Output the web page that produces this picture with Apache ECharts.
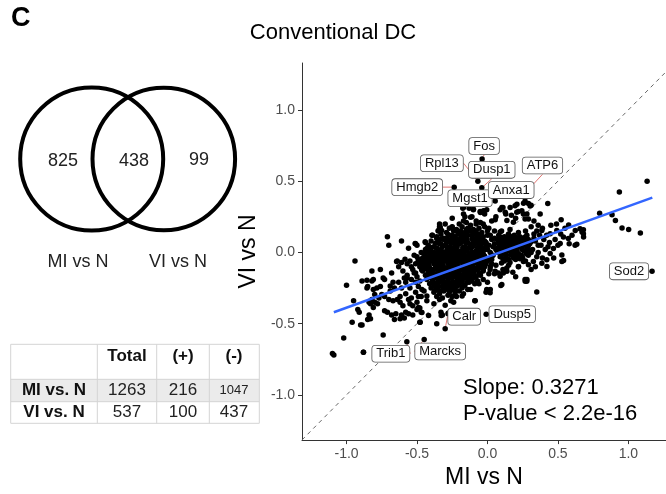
<!DOCTYPE html>
<html>
<head>
<meta charset="utf-8">
<script src="https://cdn.jsdelivr.net/npm/echarts@6/dist/echarts.min.js"></script>
<style>
  html, body { margin: 0; padding: 0; background: #fff; }
  #chart { width: 666px; height: 494px; }
</style>
</head>
<body>
<div id="chart"></div>
<script>
// scatter points [MI vs N, VI vs N]
const LEFT_TAIL = [
  [-1.10,-0.71],[-1.09,-0.72],[-1.02,-0.60],[-1.00,-0.23],[-0.96,-0.49],[-0.95,-0.34],[-0.94,-0.06],
  [-0.92,-0.40],[-0.91,-0.42],[-0.90,-0.51],[-0.89,-0.20],[-0.88,-0.70],[-0.85,-0.47],[-0.85,-0.24],
  [-0.84,-0.44],[-0.82,-0.13],[-0.82,-0.20],[-0.82,-0.33],[-0.83,-0.36],[-0.81,-0.26],[-0.76,-0.12],
  [-0.80,-0.35],[-0.78,-0.36],[-0.73,-0.41],[-0.855,-0.195],[-0.81,-0.19],[-0.855,-0.25],[-0.785,-0.25],
  [-0.76,-0.24],[-0.74,-0.18],[-0.73,-0.19],[-0.68,-0.145],[-0.67,-0.21],[-0.69,-0.235],[-0.66,-0.25],
  [-0.60,-0.13],[-0.59,-0.18],[-0.57,-0.16],[-0.58,-0.21],[-0.54,-0.19],[-0.50,-0.17],[-0.71,-0.42],
  [-0.68,-0.44],[-0.66,-0.47],[-0.65,-0.43],[-0.61,-0.44],[-0.59,-0.46],[-0.56,-0.43],[-0.53,-0.44],
  [-0.74,-0.58],[-0.71,0.11],[-0.70,0.05],[-0.61,0.08],[-0.56,0.03],[-0.50,0.05],[-0.64,-0.06],
  [-0.61,-0.07],[-0.645,-0.064],[-0.585,-0.048],[-0.63,-0.10],[-0.57,-0.08],[-0.54,-0.10],[-0.51,-0.08],
  [-0.49,-0.05],[-0.52,-0.145],[-0.62,-0.31],[-0.58,-0.29],[-0.56,-0.33],[-0.54,-0.32],[-0.51,-0.28],
  [-0.49,-0.31],[-0.55,-0.36],[-0.53,-0.375],[-0.50,-0.35],[-0.48,-0.39],[-0.49,-0.24],[-0.51,-0.21],
  [-0.48,-0.20],[-0.465,-0.26],[-0.62,-0.35],[-0.60,-0.375],[-0.64,-0.33],[-0.67,-0.34],[-0.70,-0.33],
  [-0.73,-0.31],[-0.75,-0.295],[-0.77,-0.32],[-0.80,-0.295],[-0.83,-0.34],[-0.69,-0.27],[-0.61,-0.25],
  [-0.63,-0.21],[-0.55,-0.25],[-0.57,-0.18],[-0.465,-0.12],[-0.48,-0.10],[-0.83,-0.466],[-0.89,-0.51],
  [-0.81,-0.386],[-0.84,-0.35],[-0.62,-0.466],[-0.58,-0.42],[-0.50,-0.40],[-0.418,-0.443],
  [-0.47,0.00],[-0.50,-0.03],[-0.48,-0.08],[-0.53,-0.12],[-0.55,-0.06],[-0.52,-0.02],[-0.88,-0.70]
];

const CORE = [
  [-0.20,0.20],[-0.15,0.21],[-0.12,0.19],[-0.08,0.20],[-0.05,0.21],
  [-0.27,0.17],[-0.22,0.16],[-0.18,0.18],[-0.14,0.17],[-0.10,0.16],[-0.06,0.17],[-0.02,0.18],
  [-0.33,0.13],[-0.29,0.14],[-0.24,0.15],[-0.20,0.13],[-0.16,0.14],[-0.13,0.15],[-0.09,0.13],[-0.04,0.14],[0.00,0.15],
  [-0.36,0.11],[-0.31,0.10],[-0.27,0.12],[-0.23,0.11],[-0.19,0.10],[-0.15,0.11],[-0.11,0.12],[-0.07,0.10],[-0.03,0.11],
  [-0.40,0.08],[-0.35,0.07],[-0.31,0.09],[-0.28,0.08],[-0.24,0.07],[-0.21,0.08],[-0.17,0.09],[-0.14,0.07],[-0.10,0.08],[-0.06,0.07],[-0.02,0.08],
  [-0.42,0.05],[-0.38,0.04],[-0.34,0.06],[-0.30,0.05],[-0.27,0.04],[-0.23,0.05],[-0.20,0.06],[-0.16,0.04],[-0.12,0.05],[-0.09,0.06],[-0.05,0.04],[-0.01,0.05],
  [-0.44,0.02],[-0.40,0.01],[-0.36,0.03],[-0.33,0.02],[-0.29,0.01],[-0.26,0.02],[-0.22,0.03],[-0.19,0.01],[-0.15,0.02],[-0.12,0.03],[-0.08,0.01],[-0.04,0.02],[0.00,0.02],
  [-0.45,-0.01],[-0.41,-0.02],[-0.38,0.00],[-0.34,-0.01],[-0.31,-0.02],[-0.27,0.00],[-0.24,-0.01],[-0.20,-0.02],[-0.17,0.00],[-0.13,-0.01],[-0.10,-0.02],[-0.06,0.00],[-0.03,-0.01],
  [-0.46,-0.04],[-0.42,-0.05],[-0.39,-0.03],[-0.35,-0.04],[-0.32,-0.05],[-0.28,-0.03],[-0.25,-0.04],[-0.21,-0.05],[-0.18,-0.03],[-0.14,-0.04],[-0.11,-0.05],[-0.07,-0.03],[-0.04,-0.04],[0.00,-0.05],
  [-0.47,-0.07],[-0.43,-0.08],[-0.40,-0.06],[-0.36,-0.07],[-0.33,-0.08],[-0.29,-0.06],[-0.26,-0.07],[-0.22,-0.08],[-0.19,-0.06],[-0.15,-0.07],[-0.12,-0.08],[-0.08,-0.06],[-0.05,-0.07],[-0.01,-0.08],
  [-0.45,-0.10],[-0.41,-0.11],[-0.37,-0.09],[-0.34,-0.10],[-0.30,-0.11],[-0.27,-0.09],[-0.23,-0.10],[-0.20,-0.11],[-0.16,-0.09],[-0.13,-0.10],[-0.09,-0.11],[-0.06,-0.09],[-0.02,-0.10],
  [-0.46,-0.13],[-0.42,-0.14],[-0.38,-0.12],[-0.35,-0.13],[-0.31,-0.14],[-0.28,-0.12],[-0.24,-0.13],[-0.21,-0.14],[-0.17,-0.12],[-0.14,-0.13],[-0.10,-0.14],[-0.07,-0.12],[-0.03,-0.13],
  [-0.44,-0.16],[-0.40,-0.17],[-0.36,-0.15],[-0.33,-0.16],[-0.29,-0.17],[-0.26,-0.15],[-0.22,-0.16],[-0.19,-0.17],[-0.15,-0.15],[-0.12,-0.16],[-0.08,-0.17],[-0.05,-0.15],
  [-0.43,-0.19],[-0.39,-0.20],[-0.35,-0.18],[-0.32,-0.19],[-0.28,-0.20],[-0.25,-0.18],[-0.21,-0.19],[-0.18,-0.20],[-0.14,-0.18],[-0.11,-0.19],[-0.07,-0.20],
  [-0.41,-0.22],[-0.37,-0.23],[-0.34,-0.21],[-0.30,-0.22],[-0.27,-0.23],[-0.23,-0.21],[-0.20,-0.22],[-0.16,-0.23],[-0.13,-0.21],[-0.09,-0.22],
  [-0.40,-0.25],[-0.36,-0.26],[-0.32,-0.24],[-0.29,-0.25],[-0.25,-0.26],[-0.22,-0.24],[-0.18,-0.25],[-0.14,-0.26],
  [-0.38,-0.28],[-0.34,-0.29],[-0.31,-0.27],[-0.27,-0.28],[-0.23,-0.29],[-0.20,-0.27],
  [-0.36,-0.31],[-0.32,-0.32],[-0.28,-0.30],[-0.25,-0.31]
];

// second pass over the solid part of the main blob
const CORE_FILL = [
  [-0.23,0.155],[-0.19,0.15],[-0.15,0.16],[-0.115,0.155],[-0.08,0.15],
  [-0.28,0.125],[-0.25,0.12],[-0.21,0.13],[-0.175,0.125],[-0.14,0.12],[-0.10,0.13],[-0.06,0.125],
  [-0.33,0.095],[-0.29,0.10],[-0.255,0.09],[-0.22,0.095],[-0.18,0.10],[-0.145,0.09],[-0.11,0.095],[-0.08,0.10],[-0.045,0.09],
  [-0.37,0.065],[-0.33,0.06],[-0.29,0.07],[-0.255,0.065],[-0.22,0.06],[-0.185,0.07],[-0.15,0.065],[-0.11,0.06],[-0.075,0.07],[-0.035,0.065],
  [-0.40,0.035],[-0.36,0.03],[-0.32,0.04],[-0.285,0.035],[-0.25,0.03],[-0.215,0.04],[-0.175,0.035],[-0.14,0.03],[-0.105,0.04],[-0.07,0.035],[-0.03,0.03],
  [-0.43,0.005],[-0.39,0.00],[-0.35,0.01],[-0.32,0.005],[-0.285,0.00],[-0.25,0.01],[-0.22,0.005],[-0.18,0.00],[-0.145,0.01],[-0.11,0.005],[-0.075,0.00],[-0.04,0.01],
  [-0.44,-0.025],[-0.40,-0.03],[-0.365,-0.02],[-0.33,-0.025],[-0.295,-0.03],[-0.26,-0.02],[-0.23,-0.025],[-0.19,-0.03],[-0.16,-0.02],[-0.125,-0.025],[-0.09,-0.03],[-0.055,-0.02],[-0.02,-0.025],
  [-0.445,-0.055],[-0.41,-0.06],[-0.375,-0.05],[-0.34,-0.055],[-0.305,-0.06],[-0.27,-0.05],[-0.235,-0.055],[-0.20,-0.06],[-0.165,-0.05],[-0.13,-0.055],[-0.095,-0.06],[-0.06,-0.05],[-0.03,-0.055],
  [-0.45,-0.085],[-0.415,-0.09],[-0.38,-0.08],[-0.35,-0.085],[-0.315,-0.09],[-0.28,-0.08],[-0.245,-0.085],[-0.21,-0.09],[-0.175,-0.08],[-0.14,-0.085],[-0.105,-0.09],[-0.07,-0.08],[-0.035,-0.085],
  [-0.435,-0.115],[-0.40,-0.12],[-0.36,-0.11],[-0.325,-0.115],[-0.29,-0.12],[-0.255,-0.11],[-0.22,-0.115],[-0.185,-0.12],[-0.15,-0.11],[-0.115,-0.115],[-0.08,-0.12],[-0.045,-0.11],
  [-0.42,-0.145],[-0.385,-0.15],[-0.345,-0.14],[-0.31,-0.145],[-0.275,-0.15],[-0.24,-0.14],[-0.205,-0.145],[-0.17,-0.15],[-0.135,-0.14],[-0.095,-0.145],[-0.06,-0.15],
  [-0.41,-0.175],[-0.375,-0.18],[-0.34,-0.17],[-0.305,-0.175],[-0.27,-0.18],[-0.235,-0.17],[-0.20,-0.175],[-0.165,-0.18],[-0.13,-0.17],[-0.09,-0.175],
  [-0.39,-0.205],[-0.355,-0.21],[-0.32,-0.20],[-0.285,-0.205],[-0.25,-0.21],[-0.215,-0.20],[-0.18,-0.205],[-0.145,-0.21],[-0.11,-0.20],
  [-0.38,-0.235],[-0.345,-0.24],[-0.31,-0.23],[-0.275,-0.235],[-0.24,-0.24],[-0.205,-0.23],[-0.17,-0.235],
  [-0.37,-0.265],[-0.335,-0.27],[-0.30,-0.26],[-0.265,-0.265],[-0.23,-0.27]
];

const CORE_HALO = [
  [-0.25,0.24],[-0.17,0.27],[-0.11,0.25],[-0.13,0.31],[-0.05,0.28],[-0.02,0.27],[-0.16,0.25],[-0.34,0.18],
  [-0.35,0.15],[-0.44,0.07],[-0.51,0.06],[-0.39,0.12],[-0.25,0.18],[-0.30,0.20],[-0.08,0.22],[-0.03,0.20],
  [0.01,0.17],[0.02,0.12],[-0.175,0.31],[-0.10,0.30],[-0.052,0.287],[-0.005,0.30],[-0.17,0.22],[-0.12,0.246],
  [-0.34,0.20],[-0.325,0.154],[-0.36,0.097],[-0.43,0.028],[-0.436,-0.053],[-0.49,-0.057],[-0.51,-0.145],
  [-0.467,-0.122],[-0.45,-0.27],[-0.47,-0.31],[-0.43,-0.34],[-0.38,-0.36],[-0.34,-0.33],[-0.30,-0.37],
  [-0.26,-0.34],[-0.22,-0.31],[-0.17,-0.29],[-0.12,-0.26],[-0.06,-0.22],[-0.03,-0.19],[-0.33,-0.42],
  [-0.28,-0.43],[-0.32,-0.44],[-0.49,-0.39],[-0.47,-0.42],[-0.48,-0.49],[-0.09,-0.34],[0.00,-0.21],
  [0.02,-0.26],[-0.01,-0.28],[-0.36,-0.50],[-0.328,-0.443],[-0.43,-0.306],[-0.24,-0.35],[-0.18,-0.306],
  [-0.17,0.315],[-0.099,0.303],[-0.028,0.292],[-0.335,0.177],[-0.348,0.154],[-0.442,0.074],[-0.513,0.062],
  [-0.394,0.12],[-0.252,0.177],[-0.087,-0.34],[-0.277,-0.425],[-0.489,-0.386],[-0.465,-0.421],[-0.477,-0.49],
  [-0.02,0.02],[0.02,0.00],[0.04,-0.02],[0.01,0.05],[0.05,0.06],[0.03,0.09],[-0.04,0.10],[0.00,-0.06],
  [0.03,-0.08],[-0.03,-0.12],[0.01,-0.15],[-0.05,-0.16],[0.05,0.15],[0.06,0.02],[0.055,0.23],[0.09,0.143],
  [0.11,0.05],[0.07,0.005],[0.10,-0.075],[0.09,-0.167],[0.055,-0.133],[0.02,-0.10],[0.03,-0.03],[0.00,0.05]
];

const RIGHT_CLUSTER = [
  [0.10,0.15],[0.16,0.16],[0.22,0.14],[0.27,0.15],
  [0.08,0.12],[0.12,0.11],[0.15,0.13],[0.19,0.12],[0.23,0.11],[0.28,0.12],[0.33,0.13],
  [0.07,0.09],[0.11,0.08],[0.14,0.10],[0.18,0.09],[0.21,0.08],[0.25,0.10],[0.29,0.09],[0.34,0.08],
  [0.08,0.06],[0.11,0.05],[0.15,0.07],[0.18,0.06],[0.22,0.05],[0.26,0.07],[0.30,0.06],[0.36,0.05],
  [0.07,0.03],[0.10,0.02],[0.13,0.04],[0.17,0.03],[0.20,0.02],[0.24,0.04],[0.28,0.03],[0.32,0.02],
  [0.08,0.00],[0.12,-0.01],[0.15,0.01],[0.19,0.00],[0.22,-0.01],[0.26,0.01],[0.31,0.00],
  [0.09,-0.03],[0.13,-0.04],[0.17,-0.02],[0.21,-0.03],[0.25,-0.04],[0.29,-0.02],
  [0.12,-0.06],[0.16,-0.07],[0.20,-0.05],[0.27,-0.06],
  [0.15,-0.09],[0.22,-0.10],
  [0.10,0.105],[0.135,0.10],[0.17,0.11],[0.205,0.105],[0.24,0.10],[0.27,0.11],
  [0.09,0.075],[0.125,0.07],[0.16,0.08],[0.195,0.075],[0.23,0.07],[0.27,0.08],[0.31,0.075],
  [0.09,0.045],[0.12,0.04],[0.155,0.05],[0.19,0.045],[0.23,0.04],[0.26,0.05],[0.29,0.045],
  [0.09,0.015],[0.115,0.01],[0.14,0.02],[0.18,0.015],[0.21,0.01],[0.245,0.02],[0.29,0.015],
  [0.10,-0.015],[0.135,-0.02],[0.17,-0.01],[0.205,-0.015],[0.24,-0.02],[0.275,-0.01],
  [0.11,-0.045],[0.15,-0.05],[0.185,-0.04],[0.23,-0.045]
];

const RIGHT_HALO = [
  [0.09,0.30],[0.11,0.315],[0.244,0.292],[0.255,0.27],[0.267,0.234],[0.138,0.223],[0.184,0.212],
  [0.267,0.361],[0.291,0.343],[0.31,0.33],[0.428,0.343],[0.209,0.338],[0.256,0.345],[0.303,0.326],
  [0.161,0.315],[0.22,0.287],[0.28,0.269],[0.291,0.234],[0.03,0.22],[0.06,0.25],[0.13,0.27],[0.17,0.26],
  [0.20,0.24],[0.33,0.22],[0.36,0.19],[0.31,0.18],[0.35,0.15],[0.39,0.17],[0.42,0.12],[0.40,0.09],
  [0.44,0.07],[0.38,0.05],[0.41,0.02],[0.386,0.154],[0.445,0.131],[0.492,0.154],[0.539,0.108],
  [0.574,0.097],[0.622,0.051],[0.634,0.058],[0.516,0.062],[0.468,0.028],[0.445,-0.007],[0.528,-0.018],
  [0.528,-0.064],[0.421,-0.052],[0.386,-0.076],[0.326,-0.064],[0.291,-0.087],[0.255,-0.064],[0.22,-0.099],
  [0.138,-0.133],[0.113,-0.145],[0.267,-0.19],[0.279,-0.202],[0.102,-0.225],[0.35,-0.278],[0.523,0.23],
  [0.657,0.166],[0.681,0.131],[0.576,0.193],[0.623,0.154],[0.671,0.143],[0.682,0.108],[0.422,-0.099],
  [0.54,-0.057],[0.268,-0.202],[0.095,-0.232],[0.019,-0.283],[-0.005,-0.26],[0.05,-0.15],[0.11,-0.12],
  [0.48,0.09],[0.50,0.05],[0.47,-0.04],[0.36,0.00],[0.35,-0.03],[0.33,0.10],[0.37,0.12],[0.45,0.19],
  [0.49,0.20],[0.55,0.17],[0.58,0.06],[0.60,0.12],[0.52,0.13],[0.43,0.04],[0.39,-0.04],[0.31,-0.12],
  [0.34,-0.10],[0.18,-0.14],[0.20,-0.17],[0.05,0.10],[0.04,0.04],[0.03,-0.05],[0.06,-0.09],[0.00,0.12],
  [-0.01,0.07],[0.019,-0.12],[0.078,-0.145],[0.137,-0.11],[0.102,0.315],[0.126,0.281],[0.196,0.327],
  [0.208,0.281],[0.374,0.269],[0.28,-0.19],[0.681,0.159]
];

const FAR_RIGHT = [
  [1.133,0.499],[0.936,0.423],[0.796,0.274],[0.884,0.264],[0.908,0.223],[0.955,0.172],[1.002,0.161],[1.085,0.136]
];

// named genes
const GENE_NAMES = ['Fos', 'Rpl13', 'Dusp1', 'Hmgb2', 'Mgst1', 'Anxa1', 'ATP6', 'Sod2', 'Dusp5', 'Calr', 'Marcks', 'Trib1'];
const GENE_MI = [-0.038, -0.068, -0.040, -0.236, -0.010, 0.055, 0.284, 1.168, -0.009, -0.300, -0.449, -0.572];
const GENE_VI = [0.655, 0.499, 0.453, 0.458, 0.345, 0.360, 0.434, -0.133, -0.434, -0.535, -0.611, -0.627];

// regression line ends
const FIT_MI = [-1.09, 1.17];
const FIT_VI = [-0.42, 0.384];
const SLOPE = '0.3271';
const PVALUE = '< 2.2e-16';

const X_TICKS = [-1.0, -0.5, 0.0, 0.5, 1.0];
const Y_TICKS = [-1.0, -0.5, 0.0, 0.5, 1.0];

const VENN_COUNTS = [825, 438, 99];
const VENN_SETS = ['MI vs N', 'VI vs N'];

const TABLE_HEAD = ['', 'Total', '(+)', '(-)'];
const TABLE_ROWS = ['MI vs. N', 'VI vs. N'];
const TABLE_TOTAL = [1263, 537];
const TABLE_UP = [216, 100];
const TABLE_DOWN = [1047, 437];

const FONT = '"Liberation Sans", Arial, Helvetica, sans-serif';
let myChart = echarts.init(document.getElementById('chart'));

// label box offsets from each gene's dot (px)
let labelShift = {
  'Fos': [2, -13], 'Rpl13': [-36, -18], 'Dusp1': [10, -18], 'Hmgb2': [-37, 0],
  'Mgst1': [-16, -5], 'Anxa1': [16, -11], 'ATP6': [15, -25], 'Sod2': [-23, 0],
  'Dusp5': [26, 0], 'Calr': [19, -12], 'Marcks': [16, 12], 'Trib1': [-16, 12]
};

let allPoints = LEFT_TAIL.concat(CORE, CORE_FILL, CORE_HALO, RIGHT_CLUSTER, RIGHT_HALO, FAR_RIGHT);
let genePoints = GENE_NAMES.map(function (n, i) { return { name: n, value: [GENE_MI[i], GENE_VI[i]] }; });

// venn + table drawn as graphics
let graphics = [
  { type: 'text', left: 11, top: 5, style: { text: 'C', font: 'bold 27px ' + FONT, fill: '#000' } },
  { type: 'circle', shape: { cx: 91.7, cy: 159, r: 71.5 }, style: { fill: 'none', stroke: '#000', lineWidth: 4 } },
  { type: 'circle', shape: { cx: 163.8, cy: 159, r: 71.3 }, style: { fill: 'none', stroke: '#000', lineWidth: 4 } }
];
let vennPos = [[63, 161], [134, 161], [199, 160]];
VENN_COUNTS.forEach(function (c, i) {
  graphics.push({ type: 'text', x: vennPos[i][0], y: vennPos[i][1],
    style: { text: String(c), font: '18px ' + FONT, fill: '#222', align: 'center', verticalAlign: 'middle' } });
});
[[78, 262], [178, 262]].forEach(function (p, i) {
  graphics.push({ type: 'text', x: p[0], y: p[1],
    style: { text: VENN_SETS[i], font: '18px ' + FONT, fill: '#222', align: 'center', verticalAlign: 'middle' } });
});

let colX = [10.7, 97.3, 156.7, 209.3, 259.3];
let rowY = [344.3, 379.3, 401.7, 423.3];
let gridColor = '#d4d4d4';
graphics.push({ type: 'rect', shape: { x: colX[0], y: rowY[1], width: colX[4] - colX[0], height: rowY[2] - rowY[1] },
  style: { fill: '#ebebeb' } });
rowY.forEach(function (y) {
  graphics.push({ type: 'line', shape: { x1: colX[0], y1: y, x2: colX[4], y2: y }, style: { stroke: gridColor, lineWidth: 1 } });
});
colX.forEach(function (x) {
  graphics.push({ type: 'line', shape: { x1: x, y1: rowY[0], x2: x, y2: rowY[3] }, style: { stroke: gridColor, lineWidth: 1 } });
});
let colMid = [54, 127, 183, 234];
TABLE_HEAD.forEach(function (t, j) {
  graphics.push({ type: 'text', x: colMid[j], y: 356,
    style: { text: t, font: 'bold 17px ' + FONT, fill: '#111', align: 'center', verticalAlign: 'middle' } });
});
let rowMid = [390.5, 412];
TABLE_ROWS.forEach(function (r, i) {
  graphics.push({ type: 'text', x: colMid[0], y: rowMid[i],
    style: { text: r, font: 'bold 17px ' + FONT, fill: '#111', align: 'center', verticalAlign: 'middle' } });
  [TABLE_TOTAL[i], TABLE_UP[i], TABLE_DOWN[i]].forEach(function (v, j) {
    let small = (String(v).length > 3 && j === 2);
    graphics.push({ type: 'text', x: colMid[j + 1], y: rowMid[i],
      style: { text: String(v), font: (small ? '13px ' : '17px ') + FONT, fill: '#222', align: 'center', verticalAlign: 'middle' } });
  });
});
graphics.push({ type: 'text', left: 463, top: 375,
  style: { text: 'Slope: ' + SLOPE + '\nP-value ' + PVALUE, font: '22px ' + FONT, lineHeight: 26, fill: '#000' } });

let option = {
  animation: false,
  backgroundColor: '#fff',
  textStyle: { fontFamily: FONT },
  title: {
    text: 'Conventional DC', left: 'center', top: 17,
    textStyle: { fontSize: 22, fontWeight: 'normal', color: '#000', fontFamily: FONT }
  },
  grid: { left: 302, right: 0, top: 63, bottom: 47 },
  xAxis: {
    type: 'value', min: -1.316, max: 1.267,
    name: 'MI vs N', nameLocation: 'middle', nameGap: 20,
    nameTextStyle: { fontSize: 23, color: '#000', fontFamily: FONT },
    axisLine: { onZero: false, lineStyle: { color: '#333', width: 1 } },
    axisTick: { customValues: X_TICKS, length: 4, lineStyle: { color: '#333' } },
    axisLabel: { customValues: X_TICKS, formatter: function (v) { return v.toFixed(1); },
      color: '#4d4d4d', fontSize: 14, margin: 7 },
    splitLine: { show: false }
  },
  yAxis: {
    type: 'value', min: -1.317, max: 1.329,
    name: 'VI vs N', nameLocation: 'middle', nameGap: 40,
    nameTextStyle: { fontSize: 23, color: '#000', fontFamily: FONT },
    axisLine: { show: true, onZero: false, lineStyle: { color: '#333', width: 1 } },
    axisTick: { show: true, customValues: Y_TICKS, length: 4, lineStyle: { color: '#333' } },
    axisLabel: { customValues: Y_TICKS, formatter: function (v) { return v.toFixed(1); },
      color: '#4d4d4d', fontSize: 14, margin: 7 },
    splitLine: { show: false }
  },
  graphic: graphics,
  series: [
    {
      type: 'line', name: 'identity', silent: true, symbol: 'none', z: 1,
      data: [[-1.316, -1.316], [1.267, 1.267]],
      lineStyle: { color: '#666', width: 1, type: [4, 4] }
    },
    {
      type: 'scatter', name: 'genes', symbolSize: 5.5, z: 2, large: false,
      itemStyle: { color: '#000', opacity: 1 },
      data: allPoints
    },
    {
      type: 'line', name: 'fit', symbol: 'none', z: 3,
      data: FIT_MI.map(function (x, i) { return [x, FIT_VI[i]]; }),
      lineStyle: { color: '#3366ff', width: 2.5 }
    },
    {
      type: 'scatter', name: 'labelled', symbolSize: 5.5, z: 5,
      itemStyle: { color: '#000', opacity: 1 },
      data: genePoints,
      label: {
        show: true, position: 'inside', formatter: '{b}',
        fontSize: 13, color: '#111', fontFamily: FONT,
        backgroundColor: '#fff', borderColor: '#555', borderWidth: 0.8, borderRadius: 3,
        padding: [2, 4, 1, 4]
      },
      labelLine: { show: true, lineStyle: { color: '#d9534f', width: 0.8 } },
      labelLayout: function (p) {
        let s = labelShift[GENE_NAMES[p.dataIndex]];
        return { dx: s[0], dy: s[1] };
      }
    }
  ]
};

myChart.setOption(option);
</script>
</body>
</html>
